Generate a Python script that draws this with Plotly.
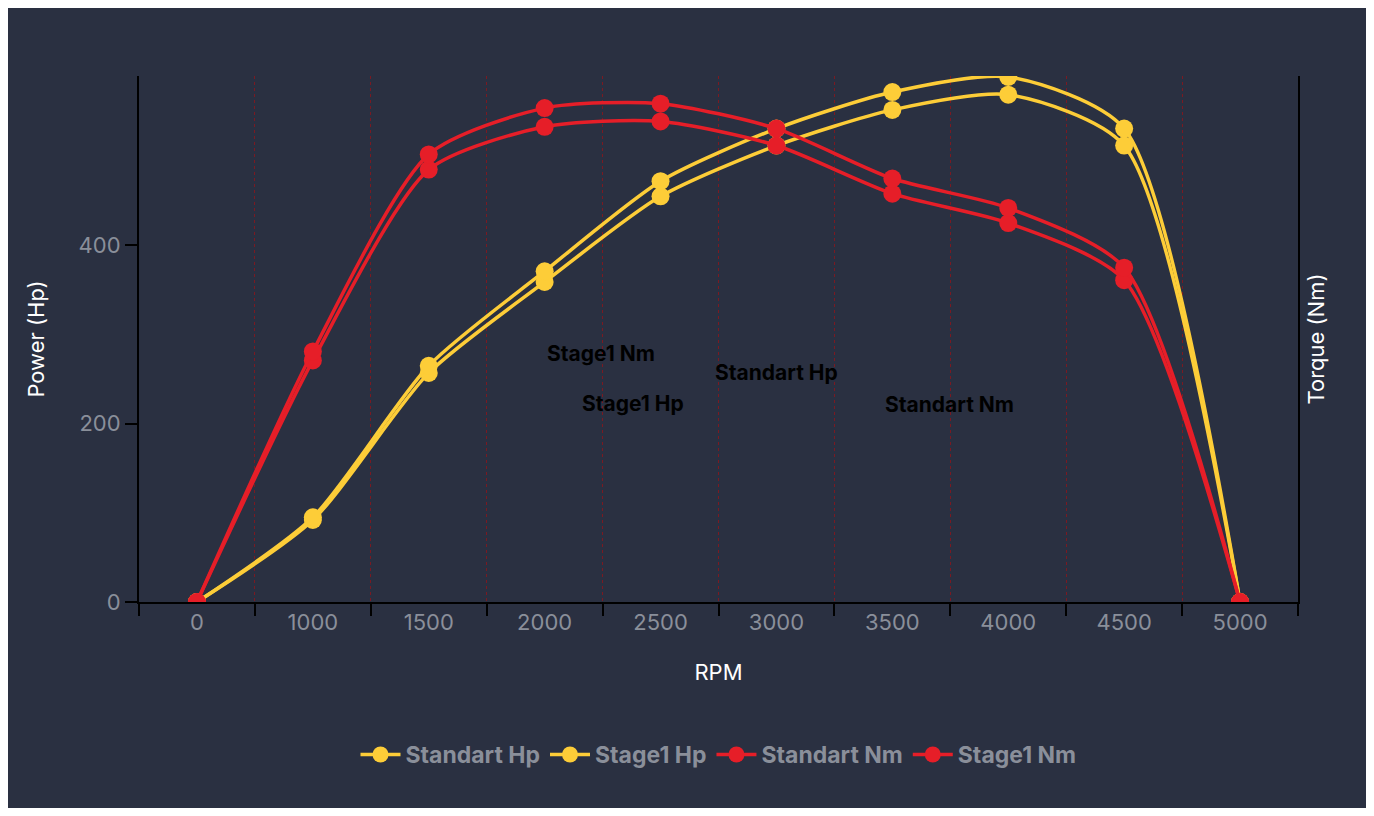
import plotly.graph_objects as go

rpm_labels = ["0", "1000", "1500", "2000", "2500", "3000", "3500", "4000", "4500", "5000"]
standart_hp = [0, 92, 257, 359, 455, 512, 552, 569, 512, 0]
stage1_hp = [0, 95, 265, 371, 472, 531, 572, 589, 531, 0]
standart_nm = [0, 271, 485, 533, 539, 512, 458, 425, 361, 0]
stage1_nm = [0, 281, 502, 554, 559, 531, 475, 442, 375, 0]

label_names = ["Stage1 Nm", "Stage1 Hp", "Standart Hp", "Standart Nm"]
label_x = [3.49, 3.76, 5.0, 6.49]
label_y = [279, 223, 257, 221]

YEL = "#fdcd38"
RED = "#e61e28"
BG = "#2a3041"
idx = list(range(len(rpm_labels)))

fig = go.Figure()
for name, vals, col, ax in [("Standart Hp", standart_hp, YEL, "y"),
                            ("Stage1 Hp", stage1_hp, YEL, "y"),
                            ("Standart Nm", standart_nm, RED, "y2"),
                            ("Stage1 Nm", stage1_nm, RED, "y2")]:
    fig.add_trace(go.Scatter(x=idx, y=vals, name=name, mode="lines+markers", yaxis=ax,
                             line=dict(color=col, width=3.5, shape="spline", smoothing=0.7),
                             marker=dict(color=col, size=18)))

for t, x, y in zip(label_names, label_x, label_y):
    fig.add_annotation(x=x, y=y, text="<b>" + t + "</b>", showarrow=False,
                       font=dict(color="black", size=21, family="Inter"))

yr = [0, 590]
fig.update_layout(
    width=1358, height=800, paper_bgcolor=BG, plot_bgcolor=BG,
    margin=dict(l=131, r=68, t=68, b=206),
    font=dict(family="Inter", color="#8a8f9a", size=22),
    xaxis=dict(range=[-0.5, 9.5], tickvals=idx, ticktext=rpm_labels, showgrid=False,
               zeroline=False, showline=True, linecolor="black", linewidth=2, ticks="",
               title=dict(text="RPM", font=dict(color="white", size=22), standoff=30),
               minor=dict(tick0=0.5, dtick=1, showgrid=True, gridcolor="#7a1a22",
                          griddash="dot", gridwidth=1, ticks="outside", ticklen=12,
                          tickcolor="black", tickwidth=2)),
    yaxis=dict(range=yr, dtick=200, showgrid=False, zeroline=False, showline=True,
               linecolor="black", linewidth=2, ticks="outside", ticklen=12, tickcolor="black",
               tickwidth=2, title=dict(text="Power (Hp)", font=dict(color="white", size=22), standoff=28)),
    yaxis2=dict(range=yr, overlaying="y", side="right", showgrid=False, zeroline=False,
                showline=True, linecolor="black", linewidth=2, showticklabels=False,
                ticks="", title=dict(text="Torque (Nm)", font=dict(color="white", size=22), standoff=10)),
    legend=dict(orientation="h", x=0.5, xanchor="center", y=-0.29, yanchor="middle",
                font=dict(color="#8a8f9a", size=23, family="Inter", weight="bold"),
                itemwidth=40),
    showlegend=True,
)
fig.write_html("out.html")
